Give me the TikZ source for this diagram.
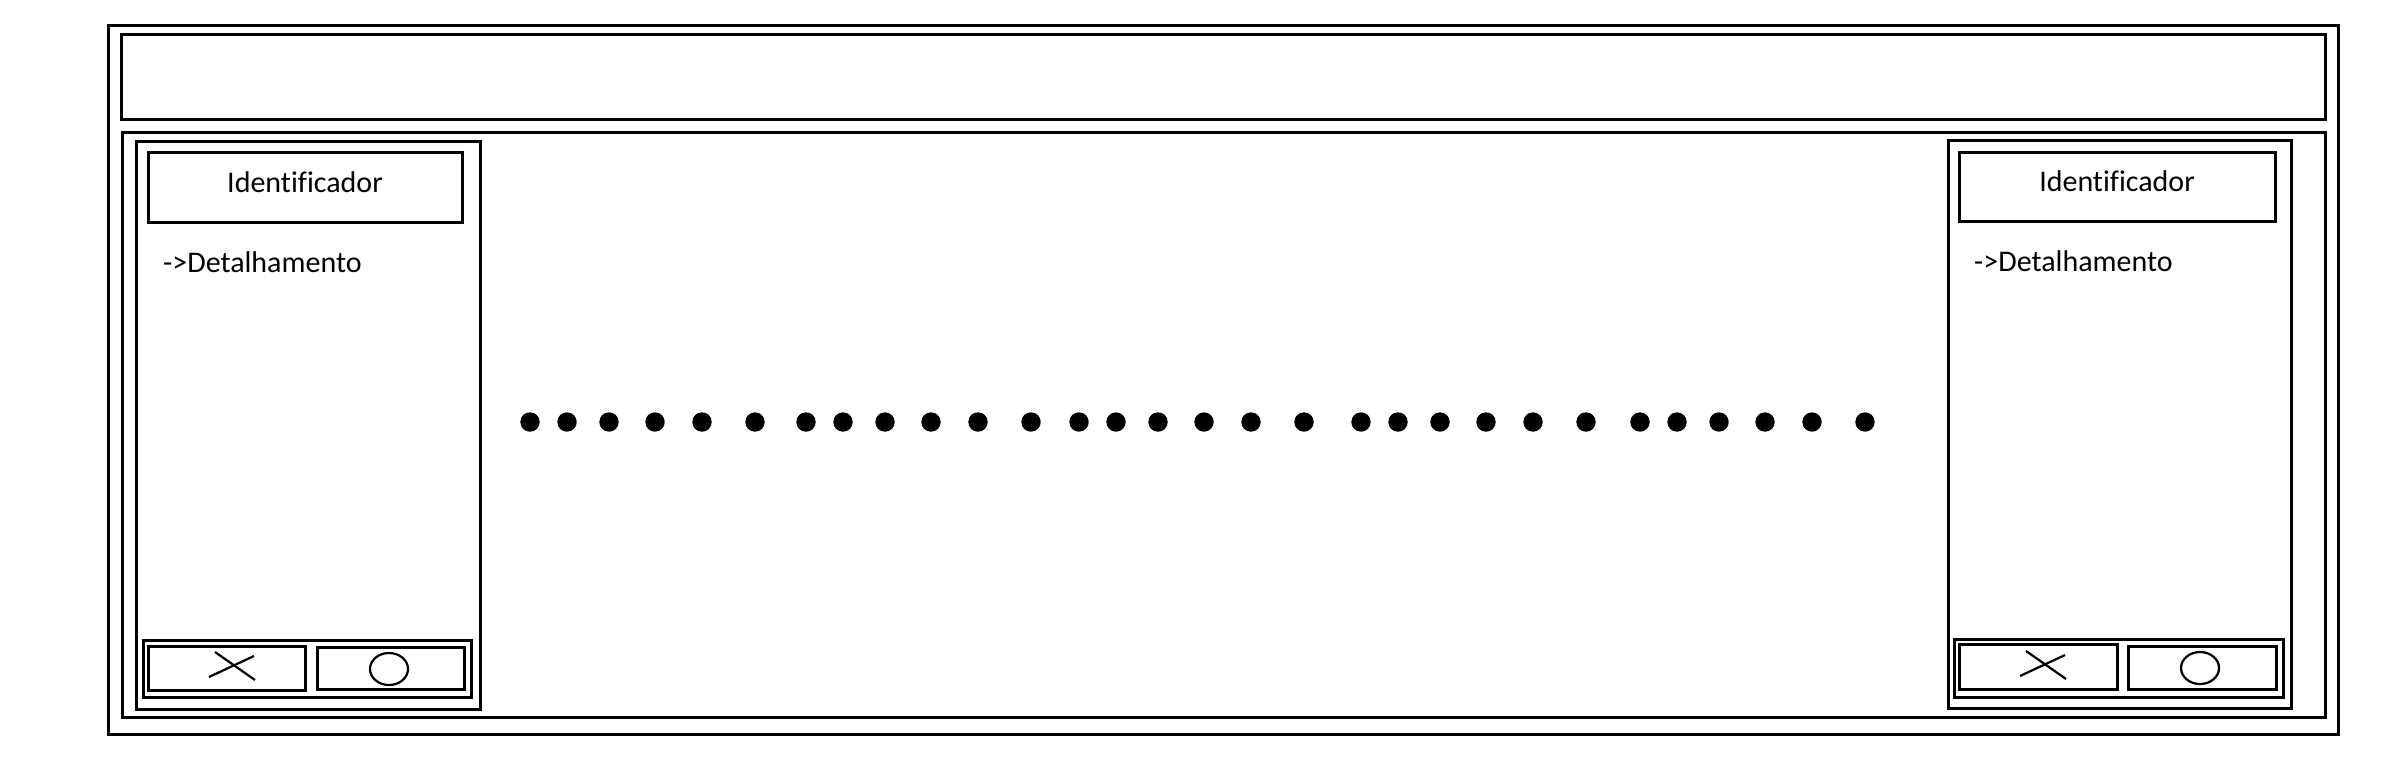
\documentclass[tikz,border=0pt]{standalone}
\usepackage{fontspec}
\setmainfont{Carlito}[Ligatures={NoCommon}]
\usetikzlibrary{fit,calc}
\begin{document}
\begin{tikzpicture}[x=1pt,y=-1pt,
  ui/.style={draw, line width=3pt, inner sep=0pt, outer sep=0pt},
  thinline/.style={line width=2.2pt},
  lbl/.style={font=\fontsize{30}{36}\selectfont, inner sep=0pt},
  dotmark/.style={fill=black, draw=none}]
\useasboundingbox (0,0) rectangle (2400,771);
\fill[white] (0,0) rectangle (2400,771);
% frames
\node[ui, fit={(108,25) (2338,734)}] (outer) {};
\node[ui, fit={(121,34) (2325,119)}] (header) {};
\node[ui, fit={(122,132) (2325,717)}] (main) {};
% left card
\node[ui, fit={(136,141) (480,709)}] (cardL) {};
\node[ui, fit={(148,152) (462,222)}] (idL) {};
\node[lbl, anchor=base] (idtL) at ($(idL.center)+(0,5)$) {Identificador};
\node[lbl, anchor=base west] (detL) at ($(idL.south west)+(15,50)$) {->Detalhamento};
\node[ui, fit={(143,640) (471,697)}] (btnsL) {};
\node[ui, fit={(148,646) (305,690)}] (xbL) {};
\node[ui, fit={(317,647) (464,689)}] (obL) {};
\coordinate (xL1) at (215,652); \coordinate (xL2) at (255,680);
\coordinate (xL3) at (209,677); \coordinate (xL4) at (254,656);
\draw[thinline] (xL1) -- (xL2);
\draw[thinline] (xL3) -- (xL4);
\draw[thinline] (389,669) ellipse [x radius=19, y radius=16];
% right card
\node[ui, fit={(1948,140) (2291,708)}] (cardR) {};
\node[ui, fit={(1959,152) (2275,221)}] (idR) {};
\node[lbl, anchor=base] (idtR) at ($(idR.center)+(0,5)$) {Identificador};
\node[lbl, anchor=base west] (detR) at ($(idR.south west)+(15,50)$) {->Detalhamento};
\node[ui, fit={(1954,639) (2283,697)}] (btnsR) {};
\node[ui, fit={(1959,644) (2117,689)}] (xbR) {};
\node[ui, fit={(2128,646) (2276,689)}] (obR) {};
\coordinate (xR1) at (2026,651); \coordinate (xR2) at (2066,679);
\coordinate (xR3) at (2020,676); \coordinate (xR4) at (2065,655);
\draw[thinline] (xR1) -- (xR2);
\draw[thinline] (xR3) -- (xR4);
\draw[thinline] (2200,668) ellipse [x radius=19, y radius=16];
% dots
\foreach \x [count=\i] in {530,567,609,655,702,755,806,843,885,931,978,1031,1079,1116,1158,1204,1251,1304,1361,1398,1440,1486,1533,1586,1640,1677,1719,1765,1812,1865}
  \fill[dotmark] (\x,422) circle [radius=9.7];
\end{tikzpicture}
\end{document}
